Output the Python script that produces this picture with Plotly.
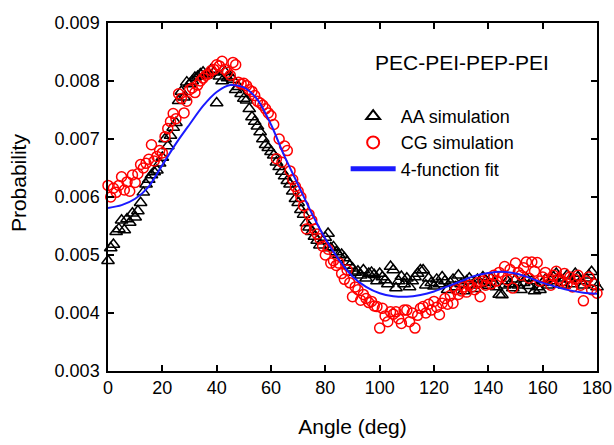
import plotly.graph_objects as go

angles = list(range(0, 181))

aa_sim = [
    0.00490, 0.00512, 0.00518, 0.00540, 0.00545, 0.00560, 0.00543, 0.00562, 0.00556, 0.00572,
    0.00565, 0.00576, 0.00590, 0.00608, 0.00622, 0.00630, 0.00638, 0.00643, 0.00646, 0.00658,
    0.00668, 0.00700, 0.00688, 0.00706, 0.00720, 0.00728, 0.00766, 0.00782, 0.00772, 0.00798,
    0.00795, 0.00800, 0.00806, 0.00808, 0.00812, 0.00815, 0.00810, 0.00813, 0.00820, 0.00815,
    0.00762, 0.00808, 0.00800, 0.00816, 0.00805, 0.00808, 0.00802, 0.00785, 0.00790, 0.00778,
    0.00770, 0.00767, 0.00752, 0.00738, 0.00730, 0.00722, 0.00712, 0.00700, 0.00690, 0.00685,
    0.00678, 0.00672, 0.00660, 0.00652, 0.00644, 0.00636, 0.00628, 0.00622, 0.00610, 0.00597,
    0.00590, 0.00578, 0.00570, 0.00555, 0.00548, 0.00540, 0.00532, 0.00525, 0.00517, 0.00524,
    0.00530, 0.00537, 0.00512, 0.00514, 0.00505, 0.00500, 0.00501, 0.00495, 0.00488, 0.00482,
    0.00477, 0.00470, 0.00472, 0.00465, 0.00474, 0.00460, 0.00468, 0.00470, 0.00466, 0.00455,
    0.00468, 0.00462, 0.00457, 0.00450, 0.00480, 0.00474, 0.00443, 0.00455, 0.00463, 0.00450,
    0.00460, 0.00445, 0.00455, 0.00462, 0.00468, 0.00474, 0.00474, 0.00448, 0.00460, 0.00452,
    0.00446, 0.00458, 0.00450, 0.00462, 0.00455, 0.00440, 0.00452, 0.00458, 0.00445, 0.00465,
    0.00450, 0.00438, 0.00455, 0.00460, 0.00448, 0.00442, 0.00458, 0.00450, 0.00462, 0.00455,
    0.00447, 0.00460, 0.00452, 0.00445, 0.00432, 0.00431, 0.00448, 0.00455, 0.00450, 0.00443,
    0.00458, 0.00448, 0.00440, 0.00452, 0.00460, 0.00447, 0.00455, 0.00438, 0.00445, 0.00440,
    0.00452, 0.00458, 0.00448, 0.00455, 0.00462, 0.00468, 0.00460, 0.00452, 0.00448, 0.00465,
    0.00458, 0.00450, 0.00468, 0.00462, 0.00455, 0.00448, 0.00460, 0.00465, 0.00471, 0.00452,
    0.00445,
]

cg_sim = [
    0.00620, 0.00600, 0.00615, 0.00608, 0.00620, 0.00635, 0.00612, 0.00626, 0.00610, 0.00638,
    0.00625, 0.00640, 0.00656, 0.00650, 0.00658, 0.00665, 0.00690, 0.00662, 0.00670, 0.00680,
    0.00676, 0.00704, 0.00718, 0.00730, 0.00744, 0.00735, 0.00778, 0.00770, 0.00745, 0.00765,
    0.00785, 0.00788, 0.00780, 0.00793, 0.00800, 0.00805, 0.00810, 0.00812, 0.00818, 0.00820,
    0.00828, 0.00826, 0.00834, 0.00820, 0.00815, 0.00810, 0.00832, 0.00828, 0.00798, 0.00795,
    0.00796, 0.00792, 0.00785, 0.00782, 0.00775, 0.00765, 0.00762, 0.00758, 0.00752, 0.00745,
    0.00740, 0.00725, 0.00666, 0.00700, 0.00660, 0.00688, 0.00680, 0.00645, 0.00630, 0.00618,
    0.00610, 0.00600, 0.00585, 0.00545, 0.00570, 0.00560, 0.00545, 0.00536, 0.00528, 0.00515,
    0.00500, 0.00510, 0.00486, 0.00490, 0.00482, 0.00486, 0.00468, 0.00458, 0.00474, 0.00452,
    0.00428, 0.00445, 0.00440, 0.00422, 0.00432, 0.00425, 0.00418, 0.00420, 0.00412, 0.00411,
    0.00374, 0.00408, 0.00395, 0.00385, 0.00402, 0.00398, 0.00402, 0.00390, 0.00382, 0.00405,
    0.00405, 0.00385, 0.00400, 0.00374, 0.00396, 0.00408, 0.00411, 0.00400, 0.00415, 0.00405,
    0.00420, 0.00410, 0.00397, 0.00417, 0.00425, 0.00415, 0.00430, 0.00417, 0.00440, 0.00432,
    0.00438, 0.00445, 0.00436, 0.00448, 0.00445, 0.00440, 0.00452, 0.00428, 0.00455, 0.00448,
    0.00460, 0.00450, 0.00465, 0.00455, 0.00470, 0.00462, 0.00480, 0.00457, 0.00475, 0.00443,
    0.00486, 0.00470, 0.00465, 0.00478, 0.00488, 0.00460, 0.00488, 0.00472, 0.00487, 0.00455,
    0.00462, 0.00470, 0.00458, 0.00448, 0.00465, 0.00472, 0.00460, 0.00455, 0.00468, 0.00450,
    0.00462, 0.00445, 0.00458, 0.00465, 0.00448, 0.00421, 0.00455, 0.00462, 0.00440, 0.00450,
    0.00434,
]

fit_angles = list(range(0, 181, 5))
fit_vals = [
    0.00581, 0.00586, 0.00597, 0.00618, 0.00655, 0.00692, 0.00725, 0.00757, 0.00781, 0.00793,
    0.00789, 0.00768, 0.00725, 0.00670, 0.00621, 0.00572, 0.00528, 0.00492, 0.00463, 0.00445,
    0.00434, 0.00429, 0.00428, 0.00431, 0.00437, 0.00446, 0.00455, 0.00464, 0.00469, 0.00471,
    0.00468, 0.00461, 0.00452, 0.00445, 0.00439, 0.00435, 0.00433,
]

x_ticks = list(range(0, 181, 20))
y_ticks = [0.003, 0.004, 0.005, 0.006, 0.007, 0.008, 0.009]

FONT = "Liberation Sans, Arial, sans-serif"

fig = go.Figure()
fig.add_trace(go.Scatter(
    x=angles, y=aa_sim, mode="markers", name="AA simulation",
    marker=dict(symbol="triangle-up-open", size=11, color="black", line=dict(width=1.5, color="black")),
    cliponaxis=False,
))
fig.add_trace(go.Scatter(
    x=angles, y=cg_sim, mode="markers", name="CG simulation",
    marker=dict(symbol="circle-open", size=10, color="red", line=dict(width=1.5, color="red")),
    cliponaxis=False,
))
fig.add_trace(go.Scatter(
    x=fit_angles, y=fit_vals, mode="lines", name="4-function fit",
    line=dict(color="#1a1aff", width=2, shape="spline", smoothing=0.8),
))

axis_common = dict(
    showgrid=False, zeroline=False, showline=True, linecolor="black", linewidth=1.5,
    mirror="ticks", ticks="inside", ticklen=6, tickwidth=1.5, tickcolor="black",
    tickfont=dict(family=FONT, size=18, color="black"), automargin=False,
)

fig.update_layout(
    width=614, height=445,
    margin=dict(l=108, r=17, t=23, b=74),
    paper_bgcolor="white", plot_bgcolor="white",
    font=dict(family=FONT, color="black"),
    xaxis=dict(range=[0, 180], tickvals=x_ticks, **axis_common,
               title=dict(text="Angle (deg)", font=dict(family=FONT, size=21), standoff=22)),
    yaxis=dict(range=[0.003, 0.009], tickvals=y_ticks, tickformat=".3f", ticklabelstandoff=3,
               **axis_common),
    legend=dict(x=0.486, y=0.785, xanchor="left", yanchor="top", bgcolor="rgba(0,0,0,0)",
                font=dict(family=FONT, size=18), itemwidth=45, itemsizing="constant",
                tracegroupgap=0),
    annotations=[
        dict(text="PEC-PEI-PEP-PEI", xref="paper", yref="paper", x=0.542, y=0.886,
             xanchor="left", yanchor="middle", showarrow=False,
             font=dict(family=FONT, size=21, color="black")),
        dict(text="Probability", xref="paper", yref="paper", x=-0.184, y=0.54,
             xanchor="center", yanchor="middle", textangle=-90, showarrow=False,
             font=dict(family=FONT, size=21, color="black")),
    ],
)

fig.write_html("out.html", config={"displayModeBar": False},
               post_script="document.body.style.margin='0';")
